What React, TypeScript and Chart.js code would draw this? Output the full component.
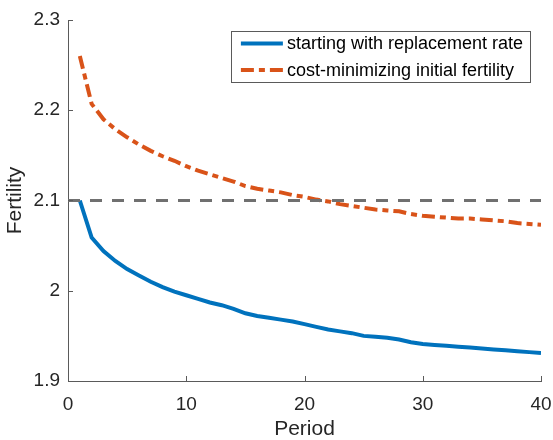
import { useEffect, useRef } from "react";
import { Chart, registerables } from "chart.js";
import type { Plugin } from "chart.js";

Chart.register(...registerables);

// periods 1..40
const periods = [
  1, 2, 3, 4, 5, 6, 7, 8, 9, 10, 11, 12, 13, 14, 15, 16, 17, 18, 19, 20,
  21, 22, 23, 24, 25, 26, 27, 28, 29, 30, 31, 32, 33, 34, 35, 36, 37, 38, 39, 40,
];

// starting with replacement rate
const replacementStart = [
  2.1, 2.059, 2.044, 2.033, 2.024, 2.017, 2.01, 2.004, 1.999, 1.995,
  1.991, 1.987, 1.984, 1.98, 1.975, 1.972, 1.97, 1.968, 1.966, 1.963,
  1.96, 1.957, 1.955, 1.953, 1.95, 1.949, 1.948, 1.946, 1.943, 1.941,
  1.94, 1.939, 1.938, 1.937, 1.936, 1.935, 1.934, 1.933, 1.932, 1.931,
];

// cost-minimizing initial fertility
const costMinimizing = [
  2.26, 2.207, 2.19, 2.179, 2.17, 2.162, 2.155, 2.149, 2.144, 2.138,
  2.133, 2.129, 2.125, 2.121, 2.116, 2.113, 2.111, 2.109, 2.106, 2.104,
  2.101, 2.099, 2.096, 2.094, 2.092, 2.09, 2.089, 2.088, 2.085, 2.083,
  2.082, 2.081, 2.08, 2.08, 2.079, 2.078, 2.077, 2.075, 2.074, 2.073,
];

const replacementRate = 2.1;
const xTicks = [0, 10, 20, 30, 40];
const yTicks = [1.9, 2, 2.1, 2.2, 2.3];

const textColor = "#262626";
const axisColor = "#5a5a5a";
const fontFamily = "'Liberation Sans', Arial, sans-serif";

// matlab style ticks pointing into the plot
const inwardTicks: Plugin = {
  id: "inwardTicks",
  afterDatasetsDraw(chart) {
    const { ctx, chartArea, scales } = chart;
    ctx.save();
    ctx.strokeStyle = axisColor;
    ctx.lineWidth = 1;
    ctx.beginPath();
    scales.x.ticks.forEach((t) => {
      const px = Math.round(scales.x.getPixelForValue(t.value)) + 0.5;
      ctx.moveTo(px, chartArea.bottom);
      ctx.lineTo(px, chartArea.bottom - 5);
    });
    scales.y.ticks.forEach((t) => {
      const py = Math.round(scales.y.getPixelForValue(t.value)) + 0.5;
      ctx.moveTo(chartArea.left, py);
      ctx.lineTo(chartArea.left + 5, py);
    });
    ctx.stroke();
    ctx.restore();
  },
};

// legend boxed inside the axes, top right
const insideLegend: Plugin = {
  id: "insideLegend",
  afterDraw(chart) {
    const { ctx, chartArea } = chart;
    const items = chart.data.datasets.filter((d) => d.label);
    ctx.save();
    ctx.font = `18px ${fontFamily}`;
    const textW = Math.max(...items.map((d) => ctx.measureText(d.label as string).width));
    const lineLen = 42;
    const w = 10 + lineLen + 4 + textW + 7;
    const h = 51;
    const x0 = chartArea.right - 11 - w;
    const y0 = chartArea.top + 11;
    ctx.fillStyle = "#fff";
    ctx.fillRect(x0, y0, w, h);
    ctx.strokeStyle = axisColor;
    ctx.lineWidth = 1;
    ctx.strokeRect(Math.round(x0) + 0.5, Math.round(y0) + 0.5, Math.round(w), h);
    items.forEach((d: any, i) => {
      const cy = y0 + 12.5 + i * 26.5;
      ctx.strokeStyle = d.borderColor;
      ctx.lineWidth = d.borderWidth;
      ctx.setLineDash(d.borderDash || []);
      ctx.beginPath();
      ctx.moveTo(x0 + 10, cy);
      ctx.lineTo(x0 + 10 + lineLen, cy);
      ctx.stroke();
      ctx.setLineDash([]);
      ctx.fillStyle = "#000";
      ctx.textBaseline = "middle";
      ctx.textAlign = "left";
      ctx.fillText(d.label, x0 + 10 + lineLen + 4, cy + 1);
    });
    ctx.restore();
  },
};

export default function App() {
  const chartRef = useRef<HTMLCanvasElement | null>(null);

  useEffect(() => {
    const canvas = chartRef.current;
    if (!canvas) return;

    const chart = new Chart(canvas, {
      type: "line",
      data: {
        datasets: [
          {
            label: "",
            data: [
              { x: xTicks[0], y: replacementRate },
              { x: xTicks[xTicks.length - 1], y: replacementRate },
            ],
            borderColor: "#707070",
            borderWidth: 3,
            borderDash: [12, 10],
            pointRadius: 0,
          },
          {
            label: "starting with replacement rate",
            data: periods.map((p, i) => ({ x: p, y: replacementStart[i] })),
            borderColor: "#0072BD",
            borderWidth: 4,
            pointRadius: 0,
          },
          {
            label: "cost-minimizing initial fertility",
            data: periods.map((p, i) => ({ x: p, y: costMinimizing[i] })),
            borderColor: "#D95319",
            borderWidth: 4,
            borderDash: [13, 5, 6, 5],
            pointRadius: 0,
          },
        ],
      },
      options: {
        animation: false,
        responsive: true,
        maintainAspectRatio: false,
        layout: { padding: { top: 20, right: 12, left: 0, bottom: 0 } },
        plugins: {
          legend: { display: false },
          tooltip: { enabled: false },
        },
        scales: {
          x: {
            type: "linear",
            min: xTicks[0],
            max: xTicks[xTicks.length - 1],
            afterBuildTicks: (s) => {
              s.ticks = xTicks.map((v) => ({ value: v }));
            },
            afterFit: (s) => {
              s.height = 59;
              s.paddingLeft = 0;
              s.paddingRight = 0;
            },
            grid: { display: false, drawTicks: false },
            border: { display: true, color: axisColor, width: 1 },
            ticks: {
              color: textColor,
              padding: 14,
              font: { family: fontFamily, size: 19, lineHeight: 1 },
              callback: (v) => String(v),
            },
            title: {
              display: true,
              text: "Period",
              color: textColor,
              padding: { top: 0, bottom: 0 },
              font: { family: fontFamily, size: 21, lineHeight: 1 },
            },
          },
          y: {
            type: "linear",
            min: yTicks[0],
            max: yTicks[yTicks.length - 1],
            afterBuildTicks: (s) => {
              s.ticks = yTicks.map((v) => ({ value: v }));
            },
            afterFit: (s) => {
              s.width = 68;
              s.paddingTop = 0;
              s.paddingBottom = 0;
            },
            grid: { display: false, drawTicks: false },
            border: { display: true, color: axisColor, width: 1 },
            ticks: {
              color: textColor,
              padding: 8,
              font: { family: fontFamily, size: 19, lineHeight: 1 },
              callback: (v) => String(v),
            },
            title: {
              display: true,
              text: "Fertility",
              color: textColor,
              padding: { top: 5, bottom: 0 },
              font: { family: fontFamily, size: 21, lineHeight: 1 },
            },
          },
        },
      },
      plugins: [inwardTicks, insideLegend],
    });

    return () => {
      chart.destroy();
    };
  }, []);

  return (
    <div style={{ position: "fixed", left: 0, top: 0, width: 553, height: 440, background: "#fff" }}>
      <canvas ref={chartRef}></canvas>
    </div>
  );
}
